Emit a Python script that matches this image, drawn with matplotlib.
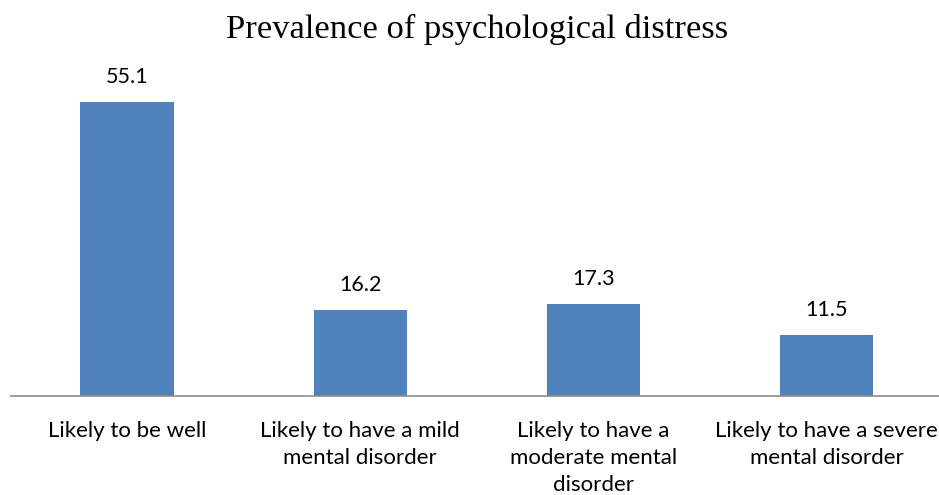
import matplotlib.pyplot as plt

categories = ['Likely to be well',
              'Likely to have a mild\nmental disorder',
              'Likely to have a\nmoderate mental\ndisorder',
              'Likely to have a severe\nmental disorder']
values = [55.1, 16.2, 17.3, 11.5]

fig = plt.figure(figsize=(9.39, 4.95), dpi=100)
ax = fig.add_axes([0.0112, 0.2, 0.993, 0.6467])

x = range(len(categories))
ax.bar(x, values, width=0.4, color='#4F81BD')

ax.set_xlim(-0.5, 3.5)
ax.set_ylim(0, 60)

# Value labels above the bars
for i, v in enumerate(values):
    ax.text(i, v + 2.8, f'{v:.1f}', ha='center', va='bottom',
            fontsize=15.5, family='Lato', color='black')

ax.set_xticks(list(x))
ax.set_xticklabels(categories, fontsize=16, family='Lato', linespacing=1.45, va='top')
ax.tick_params(axis='x', length=0, pad=18)
ax.set_yticks([])

for s in ['top', 'right', 'left']:
    ax.spines[s].set_visible(False)
ax.spines['bottom'].set_color('#8C8C8C')
ax.spines['bottom'].set_linewidth(1.2)

fig.text(0.508, 0.94, 'Prevalence of psychological distress', ha='center', va='center',
         fontsize=24.8, family='Liberation Serif')

fig.savefig('out.png', dpi=100)
